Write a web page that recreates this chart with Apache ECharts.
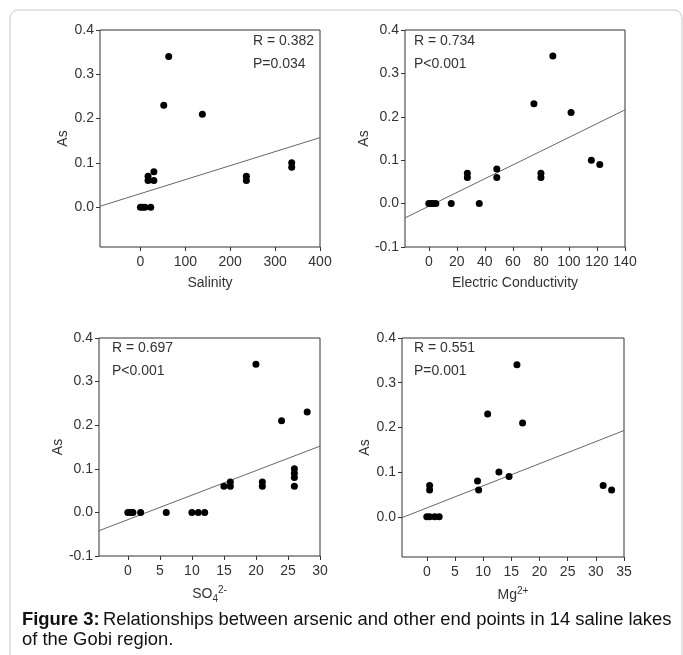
<!DOCTYPE html>
<html>
<head>
<meta charset="utf-8">
<script src="https://cdn.jsdelivr.net/npm/echarts@6/dist/echarts.min.js"></script>
<style>
  html, body { margin: 0; padding: 0; background: #fff; }
  #chart { width: 683px; height: 655px; }
</style>
</head>
<body>
<div id="chart"></div>
<script>
// Data
const salinityX = [0, 5, 10, 23, 17, 17, 30, 30, 52, 63, 138, 236, 236, 337, 337];
const salinityAs = [0, 0, 0, 0, 0.07, 0.06, 0.08, 0.06, 0.23, 0.34, 0.21, 0.07, 0.06, 0.1, 0.09];

const ecX = [0, 1.5, 3, 5, 16, 27.5, 27.5, 36, 48.5, 48.5, 75, 88.5, 101.5, 80, 80, 116, 122];
const ecAs = [0, 0, 0, 0, 0, 0.07, 0.06, 0, 0.08, 0.06, 0.23, 0.34, 0.21, 0.07, 0.06, 0.1, 0.09];

const so4X = [0, 0.4, 0.8, 2, 6, 10, 11, 12, 15, 16, 16, 20, 21, 21, 24, 26, 26, 26, 26, 28];
const so4As = [0, 0, 0, 0, 0, 0, 0, 0, 0.06, 0.07, 0.06, 0.34, 0.07, 0.06, 0.21, 0.1, 0.09, 0.08, 0.06, 0.23];

const mgX = [0, 0.5, 1.4, 2.2, 0.5, 0.5, 9, 9.2, 10.8, 12.8, 14.6, 16, 17, 31.3, 32.8];
const mgAs = [0, 0, 0, 0, 0.07, 0.06, 0.08, 0.06, 0.23, 0.1, 0.09, 0.34, 0.21, 0.07, 0.06];

// regression line end points
const salinityFit = [[-90, 0.002], [400, 0.157]];
const ecFit = [[-17, -0.033], [140, 0.216]];
const so4Fit = [[-4.5, -0.042], [30, 0.152]];
const mgFit = [[-4.4, -0.002], [35, 0.193]];

const rValues = ["R = 0.382", "R = 0.734", "R = 0.697", "R = 0.551"];
const pValues = ["P=0.034", "P<0.001", "P<0.001", "P=0.001"];

// tick labels
const salinityTicks = [0, 100, 200, 300, 400];
const ecTicks = [0, 20, 40, 60, 80, 100, 120, 140];
const so4Ticks = [0, 5, 10, 15, 20, 25, 30];
const mgTicks = [0, 5, 10, 15, 20, 25, 30, 35];
const asTicksShort = [0, 0.1, 0.2, 0.3, 0.4];
const asTicksLong = [-0.1, 0, 0.1, 0.2, 0.3, 0.4];

const font = "Liberation Sans, Arial, sans-serif";
const textColor = "#333";

const zip = (xs, ys) => xs.map((x, i) => [x, ys[i]]);

const grids = [
  { left: 100, top: 30, width: 220, height: 217 },
  { left: 405, top: 30, width: 220, height: 217 },
  { left: 99, top: 338, width: 221, height: 218 },
  { left: 402, top: 338, width: 222, height: 219 },
];

const xDefs = [
  { min: -90, max: 400, ticks: salinityTicks, name: "Salinity" },
  { min: -17, max: 140, ticks: ecTicks, name: "Electric Conductivity" },
  { min: -4.5, max: 30, ticks: so4Ticks, name: "{b|SO}{sub|4}{sup|2-}" },
  { min: -4.4, max: 35, ticks: mgTicks, name: "{b|Mg}{sup|2+}" },
];
const yDefs = [
  { min: -0.09, max: 0.4, ticks: asTicksShort },
  { min: -0.1, max: 0.4, ticks: asTicksLong },
  { min: -0.1, max: 0.4, ticks: asTicksLong },
  { min: -0.09, max: 0.4, ticks: asTicksShort },
];

const chart = echarts.init(document.getElementById("chart"));

const option = {
  animation: false,
  grid: grids.map((g) => ({
    ...g,
    show: true,
    borderColor: "#333",
    borderWidth: 1,
    backgroundColor: "transparent",
  })),
  xAxis: xDefs.map((d, i) => ({
    type: "value",
    gridIndex: i,
    min: d.min,
    max: d.max,
    name: d.name,
    nameLocation: "middle",
    nameGap: 29,
    nameTextStyle: {
      fontFamily: font,
      fontSize: 14,
      color: textColor,
      rich: {
        b: { fontFamily: font, fontSize: 14, color: textColor },
        sub: { fontFamily: font, fontSize: 10, color: textColor, padding: [9, 0, 0, 0] },
        sup: { fontFamily: font, fontSize: 10, color: textColor, padding: [0, 0, 9, 0] },
      },
    },
    axisLine: { show: false, onZero: false },
    axisTick: { show: true, length: 4, customValues: d.ticks, lineStyle: { color: "#333" } },
    axisLabel: {
      customValues: d.ticks,
      margin: 8,
      fontFamily: font,
      fontSize: 14,
      color: textColor,
    },
    splitLine: { show: false },
  })),
  yAxis: yDefs.map((d, i) => ({
    type: "value",
    gridIndex: i,
    min: d.min,
    max: d.max,
    name: "As",
    nameLocation: "middle",
    nameGap: 27,
    nameTextStyle: { fontFamily: font, fontSize: 14, color: textColor },
    axisLine: { show: false, onZero: false },
    axisTick: { show: true, length: 4, customValues: d.ticks, lineStyle: { color: "#333" } },
    axisLabel: {
      customValues: d.ticks,
      margin: 6,
      fontFamily: font,
      fontSize: 14,
      color: textColor,
      formatter: (v) => v.toFixed(1),
    },
    splitLine: { show: false },
  })),
  series: [
    ...[salinityFit, ecFit, so4Fit, mgFit].map((fit, i) => ({
      type: "line",
      xAxisIndex: i,
      yAxisIndex: i,
      data: fit,
      symbol: "none",
      lineStyle: { color: "#666", width: 1 },
      z: 1,
    })),
    ...[
      zip(salinityX, salinityAs),
      zip(ecX, ecAs),
      zip(so4X, so4As),
      zip(mgX, mgAs),
    ].map((pts, i) => ({
      type: "scatter",
      xAxisIndex: i,
      yAxisIndex: i,
      data: pts,
      symbolSize: 7,
      itemStyle: { color: "#000", opacity: 1 },
      z: 2,
    })),
  ],
  graphic: [
    // page frame
    {
      type: "rect",
      shape: { x: 10, y: 10, width: 672, height: 700, r: 8 },
      style: { fill: "none", stroke: "#c8c8c8", lineWidth: 1 },
      silent: true,
    },
    ...[
      [253, 42],
      [414, 42],
      [112, 349],
      [414, 349],
    ].flatMap((pos, i) => [
      {
        type: "text",
        left: pos[0],
        top: pos[1] - 8,
        style: { text: rValues[i], font: "14px " + font, fill: textColor },
      },
      {
        type: "text",
        left: pos[0],
        top: pos[1] + 15,
        style: { text: pValues[i], font: "14px " + font, fill: textColor },
      },
    ]),
    {
      type: "text",
      left: 22,
      top: 610,
      style: {
        text: "{b|Figure 3:} {n|Relationships between arsenic and other end points in 14 saline lakes}\n{n|of the Gobi region.}",
        lineHeight: 20,
        rich: {
          b: { font: "bold 18.4px " + font, fill: "#111", lineHeight: 20 },
          n: { font: "18.4px " + font, fill: "#111", lineHeight: 20 },
        },
      },
    },
  ],
};

chart.setOption(option);
</script>
</body>
</html>
